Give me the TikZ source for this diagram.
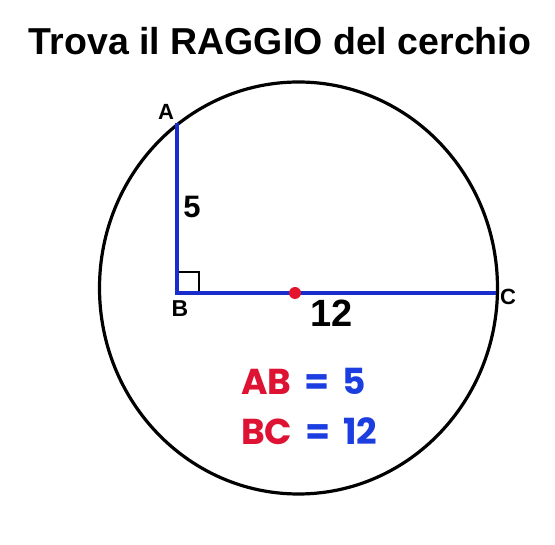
\documentclass[tikz,border=0pt]{standalone}
\usepackage{fontspec}
\setmainfont{Liberation Sans}
\newfontfamily\eqfont{Poppins}
\definecolor{segblue}{RGB}{25,45,205}
\definecolor{dotred}{RGB}{228,20,45}
\definecolor{eqred}{RGB}{222,18,50}
\definecolor{eqblue}{RGB}{28,62,225}
\begin{document}
\begin{tikzpicture}[x=1pt,y=-1pt,
  seg/.style={draw=segblue,line width=3.6pt},
  ptlabel/.style={anchor=base,inner sep=0pt,font=\bfseries\fontsize{22}{22}\selectfont},
  eqline/.style={anchor=base west,inner sep=0pt,font=\eqfont\bfseries\fontsize{36}{36}\selectfont}]
\useasboundingbox (0,0) rectangle (555,545);
\fill[white] (0,0) rectangle (555,545);
\node[anchor=base,inner sep=0pt,font=\bfseries\fontsize{37.5}{37.5}\selectfont] (title) at (280,55) {Trova il RAGGIO del cerchio};
\draw[line width=3.2pt] (298.5,288) ellipse [x radius=199, y radius=206];
\coordinate (A) at (177,123);
\coordinate (B) at (177,293);
\coordinate (C) at (496,293);
\coordinate (O) at (295,293);
\draw[line width=2pt] (B) ++(0,-21) -| ++(22,21);
\draw[seg] (A) -- (B) -- (C);
\fill[dotred] (O) circle (6);
\node[ptlabel] (lA) at (166,120) {A};
\node[ptlabel,font=\bfseries\fontsize{23}{23}\selectfont] (lB) at (180,317) {B};
\node[ptlabel] (lC) at (508,305) {C};
\node[ptlabel,font=\bfseries\fontsize{31}{31}\selectfont] (l5) at (192,218) {5};
\node[ptlabel,font=\bfseries\fontsize{38}{38}\selectfont] (l12) at (332,327) {12};
\node[eqline] (eq1) at (241,395) {\textcolor{eqred}{AB}\hspace{13pt}\textcolor{eqblue}{=\hspace{13pt}5}};
\node[eqline] (eq2) at (241,445) {\textcolor{eqred}{BC}\hspace{13pt}\textcolor{eqblue}{=\hspace{13pt}12}};
\end{tikzpicture}
\end{document}
